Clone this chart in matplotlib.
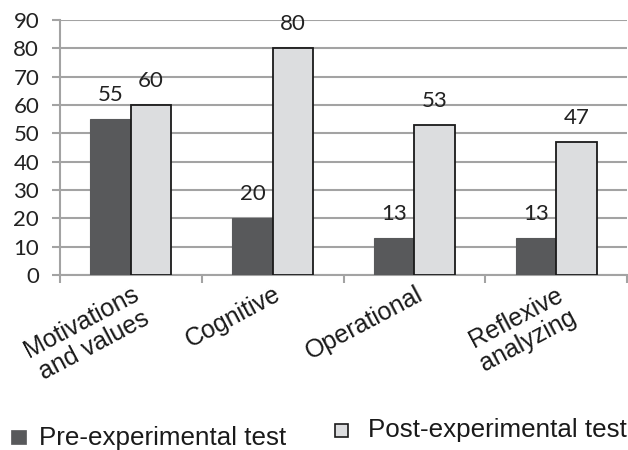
import matplotlib
matplotlib.use("Agg")
import matplotlib.pyplot as plt
import matplotlib.transforms as mtransforms
import numpy as np

categories = ["Motivations\nand values", "Cognitive", "Operational", "Reflexive\nanalyzing"]
pre_test = [55, 20, 13, 13]
post_test = [60, 80, 53, 47]
series_names = ["Pre-experimental test", "Post-experimental test"]

dark = "#58595b"
light = "#dcdddf"
grid_gray = "#a3a3a3"
num_font = ["Lato", "DejaVu Sans"]

fig = plt.figure(figsize=(6.28, 4.5), dpi=100)
ax = fig.add_axes([60 / 628, 1 - 275 / 450, 567 / 628, 255 / 450])

x = np.arange(len(categories))
w = 0.285
b1 = ax.bar(x - w / 2, pre_test, w, color=dark, edgecolor=dark, linewidth=0.8, zorder=3)
b2 = ax.bar(x + w / 2, post_test, w, color=light, edgecolor="#1a1a1a", linewidth=1.3, zorder=3)

# value labels over each bar
for bars, vals in ((b1, pre_test), (b2, post_test)):
    for rect, v in zip(bars, vals):
        ax.annotate(str(v), (rect.get_x() + rect.get_width() / 2, v),
                    xytext=(0, 10), textcoords="offset points",
                    ha="center", va="bottom", fontsize=16,
                    family=num_font, color="#222222")

ax.set_xlim(-0.5, len(categories) - 0.5)
ax.set_ylim(0, 90)
ax.set_yticks(range(0, 91, 10))
ax.yaxis.grid(True, color=grid_gray, linewidth=1.5, zorder=0)
ax.set_axisbelow(True)

for s in ("top", "right"):
    ax.spines[s].set_visible(False)
for s in ("left", "bottom"):
    ax.spines[s].set_color(grid_gray)
    ax.spines[s].set_linewidth(1.5)

ax.tick_params(axis="y", length=6, width=1.5, color=grid_gray, pad=9,
               labelsize=16, labelcolor="#222222")
for lab in ax.get_yticklabels():
    lab.set_family(num_font)

# category ticks sit between groups
ax.set_xticks(np.arange(len(categories) + 1) - 0.5, minor=True)
ax.set_xticks(x)
ax.tick_params(axis="x", which="minor", length=6, width=1.5, color=grid_gray)
ax.tick_params(axis="x", which="major", length=0, pad=5)
ax.set_xticklabels(categories, rotation=28, ha="right", va="top",
                   rotation_mode="anchor", multialignment="center",
                   fontsize=18, family="Liberation Sans", color="#1a1a1a",
                   linespacing=1.1)
offset = mtransforms.ScaledTranslation(1 / 100, 0, fig.dpi_scale_trans)
for lab in ax.get_xticklabels():
    lab.set_transform(lab.get_transform() + offset)

# legend entries placed manually along the bottom
fig.patches.append(plt.Rectangle((11 / 628, 1 - 444 / 450), 15 / 628, 14 / 450,
                                 transform=fig.transFigure, facecolor=dark,
                                 edgecolor=dark, linewidth=0.5))
fig.text(39 / 628, 1 - 445 / 450, series_names[0], fontsize=18.7,
         family="Liberation Sans", color="#1a1a1a", va="baseline")
fig.patches.append(plt.Rectangle((335 / 628, 1 - 437 / 450), 13 / 628, 13 / 450,
                                 transform=fig.transFigure, facecolor=light,
                                 edgecolor="#1a1a1a", linewidth=1.2))
fig.text(368 / 628, 1 - 437 / 450, series_names[1], fontsize=18.7,
         family="Liberation Sans", color="#1a1a1a", va="baseline")

fig.savefig("out.png", dpi=100)
